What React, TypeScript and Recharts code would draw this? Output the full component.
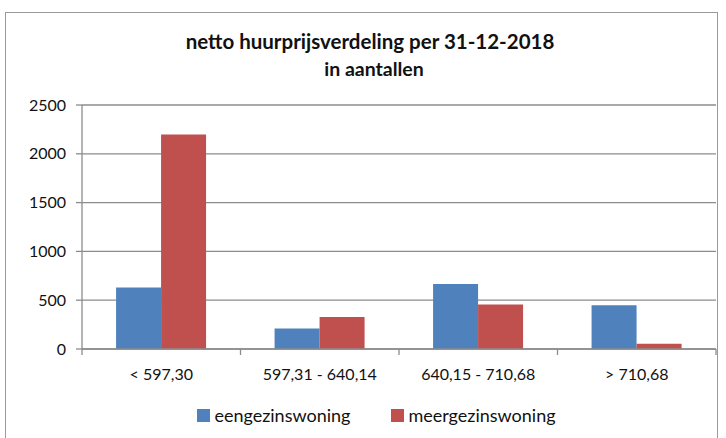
import { BarChart, Bar, XAxis, YAxis, CartesianGrid, Legend } from 'recharts'

const categories = ['< 597,30', '597,31 - 640,14', '640,15 - 710,68', '> 710,68']
const eengezinswoning = [630, 210, 667, 447]
const meergezinswoning = [2197, 327, 457, 54]
const yTicks = [0, 500, 1000, 1500, 2000, 2500]

const data = categories.map((name, i) => ({
  name,
  eengezinswoning: eengezinswoning[i],
  meergezinswoning: meergezinswoning[i],
}))

const font = 'Lato, "Open Sans", sans-serif'
const gridColor = '#8c8c8c'
const TICK_SIZE = 6
const TICK_MARGIN = 14

// category label plus the tick marks that sit between categories
function CategoryTick(props: any) {
  const { x, y, payload, index, visibleTicksCount } = props
  const off = payload?.offset ?? 0
  const axisY = y - TICK_SIZE - TICK_MARGIN
  return (
    <g>
      <line x1={x - off} x2={x - off} y1={axisY} y2={axisY + TICK_SIZE} stroke={gridColor} strokeWidth={1.3} />
      {index === visibleTicksCount - 1 && (
        <line x1={x + off} x2={x + off} y1={axisY} y2={axisY + TICK_SIZE} stroke={gridColor} strokeWidth={1.3} />
      )}
      <text x={x} y={y} dy="0.71em" textAnchor="middle" fill="#111" fontSize={16} fontFamily={font}>
        {payload.value}
      </text>
    </g>
  )
}

function LegendContent(props: any) {
  const items = props.payload || []
  return (
    <div style={{ display: 'flex', justifyContent: 'center', gap: 41, paddingLeft: 27, fontFamily: font, fontSize: 18, color: '#111' }}>
      {items.map((it: any) => (
        <div key={it.value} style={{ display: 'flex', alignItems: 'center' }}>
          <span style={{ width: 13, height: 13, background: it.color, marginRight: 4, display: 'inline-block' }} />
          <span>{it.value}</span>
        </div>
      ))}
    </div>
  )
}

export default function App() {
  return (
    <div style={{ position: 'absolute', left: 0, top: 0, width: 726, height: 438, background: '#fff', fontFamily: font, overflow: 'hidden' }}>
      <div style={{ position: 'absolute', left: 5, top: 12, width: 713, height: 440, border: '1px solid #9a9a9a', boxSizing: 'border-box' }} />
      <div style={{ position: 'absolute', left: 7, width: 726, top: 29, textAlign: 'center', fontSize: 20.5, fontWeight: 700, color: '#111' }}>
        netto huurprijsverdeling per 31-12-2018
      </div>
      <div style={{ position: 'absolute', left: 11, width: 726, top: 57, textAlign: 'center', fontSize: 19.5, fontWeight: 700, color: '#111' }}>
        in aantallen
      </div>
      <div style={{ position: 'absolute', left: 0, top: 0 }}>
        <BarChart width={726} height={438} data={data} margin={{ top: 105, right: 10, bottom: 0, left: 0 }} barCategoryGap="21.5%" barGap={0}>
          <CartesianGrid vertical={false} stroke={gridColor} strokeWidth={1.3} />
          <XAxis dataKey="name" height={67} tickLine={false} tickSize={TICK_SIZE} tickMargin={TICK_MARGIN} stroke={gridColor} strokeWidth={1.3} tick={<CategoryTick />} interval={0} />
          <YAxis domain={[0, 2500]} ticks={yTicks} width={82} tickSize={6} tickMargin={10} stroke={gridColor} strokeWidth={1.3} tick={{ fill: '#111', fontSize: 16, fontFamily: font }} />
          <Legend verticalAlign="bottom" content={<LegendContent />} wrapperStyle={{ top: 404, left: 0, width: 726 }} />
          <Bar dataKey="eengezinswoning" fill="#4f81bd" isAnimationActive={false} />
          <Bar dataKey="meergezinswoning" fill="#c0504d" isAnimationActive={false} />
        </BarChart>
      </div>
    </div>
  )
}
